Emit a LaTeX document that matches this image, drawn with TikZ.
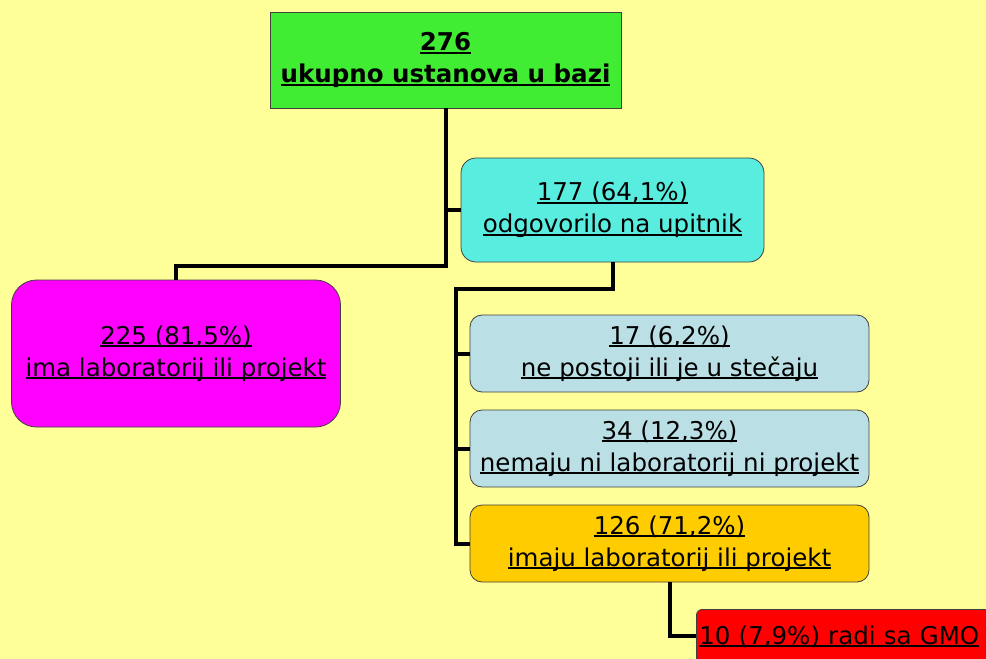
\documentclass[tikz,border=0pt]{standalone}
\usepackage{fontspec}
\setmainfont{DejaVu Sans}
\usepackage{xcolor}
\usetikzlibrary{calc,positioning}
\definecolor{paleyellow}{rgb}{1.0, 1.0, 0.6}
\definecolor{limegreen}{rgb}{0.25, 0.93, 0.2}
\definecolor{aquacyan}{rgb}{0.35, 0.93, 0.88}
\definecolor{powderblue}{rgb}{0.73, 0.88, 0.9}
\definecolor{amber}{rgb}{1.0, 0.8, 0.0}
\definecolor{fuchsia}{rgb}{1.0, 0.0, 1.0}
\newcommand{\ulin}[1]{\setbox0\hbox{#1}\rlap{\rule[-2.8pt]{\wd0}{1.6pt}}\box0}
\newcommand{\ulinb}[1]{\setbox0\hbox{#1}\rlap{\rule[-3.6pt]{\wd0}{2.6pt}}\box0}
\tikzset{
    box/.style={
        draw=black!75,
        line width=0.8pt,
        align=center,
        inner sep=0pt,
        font=\fontsize{24.5}{32}\selectfont,
    },
    roundbox/.style={
        box,
        rounded corners=#1,
    },
    link/.style={
        draw,
        line width=4pt,
        line cap=butt,
    },
}

\begin{document}
\begin{tikzpicture}[x=1pt, y=-1pt]
    % Background
    \fill[paleyellow] (0, 0) rectangle (986, 659);
    \clip (0, 0) rectangle (986, 659);

    % Connectors from the total
    \coordinate (split) at (445.5, 266);
    \coordinate (rail) at (456, 289);

    % Total
    \node[box, fill=limegreen, minimum width=351, minimum height=96]
      (total) at (445.5, 60) {\bfseries\ulinb{276}\\\bfseries\ulinb{ukupno ustanova u bazi}};

    % Answered
    \node[roundbox=15, fill=aquacyan, minimum width=303, minimum height=104]
      (answered) at (612.5, 210) {\ulin{177 (64,1\%)}\\\ulin{odgovorilo na upitnik}};

    % Lab or project (all)
    \node[roundbox=25, fill=fuchsia, minimum width=329, minimum height=147]
      (labproj) at (176, 353.5) {\ulin{225 (81,5\%)}\\\ulin{ima laboratorij ili projekt}};

    % Answers
    \node[roundbox=12, fill=powderblue, minimum width=399, minimum height=77]
      (closed) at (669.5, 353.5) {\ulin{17 (6,2\%)}\\\ulin{ne postoji ili je u stečaju}};
    \node[roundbox=12, fill=powderblue, minimum width=399, minimum height=77]
      (nolab) at (669.5, 448.5) {\ulin{34 (12,3\%)}\\\ulin{nemaju ni laboratorij ni projekt}};
    \node[roundbox=12, fill=amber, minimum width=399, minimum height=77]
      (haslab) at (669.5, 543.5) {\ulin{126 (71,2\%)}\\\ulin{imaju laboratorij ili projekt}};

    % GMO
    \node[roundbox=6, fill=red, anchor=north west, minimum width=320, minimum height=54,
      text width=314, align=left, inner xsep=3]
      (gmo) at (696, 609) {\ulin{10 (7,9\%) radi sa GMO}};

    % Links under the total
    \draw[link] (total.south) |- (answered.west);
    \draw[link] (total.south) -- (split) -| (labproj.north);

    % Links under the answered
    \draw[link] (answered.south) |- (rail) |- (haslab.west);
    \draw[link] (rail |- closed.west) -- (closed.west);
    \draw[link] (rail |- nolab.west) -- (nolab.west);

    % Link to GMO
    \draw[link] (haslab.south) |- (gmo.west);
\end{tikzpicture}
\end{document}
